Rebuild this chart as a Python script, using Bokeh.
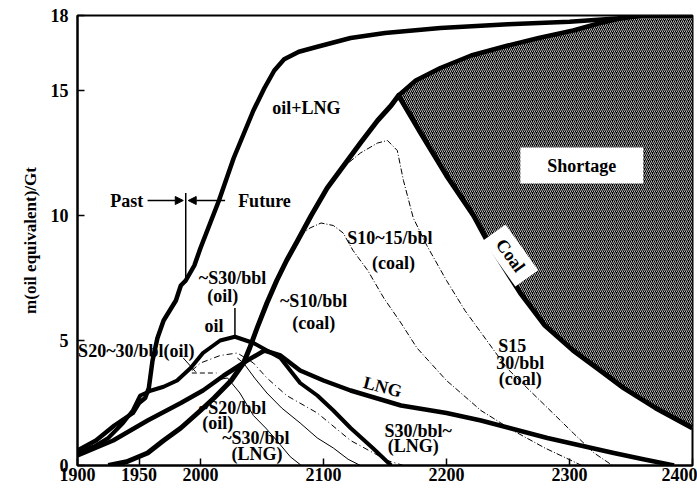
from bokeh.plotting import figure
from bokeh.models import Range1d, Label, Arrow, NormalHead, FixedTicker
from bokeh.embed import file_html
from bokeh.resources import INLINE

FONT = "Liberation Serif"

# ---- ticks ----
x_ticks = [1900, 1950, 2000, 2100, 2200, 2300, 2400]
y_ticks = [0, 5, 10, 15, 18]

# ---- thick curves ----
total_year = [1900, 1915, 1930, 1945, 1950, 1955, 1958, 1961, 1965, 1970, 1975, 1980, 1984, 1988,
              1995, 2000, 2015, 2027, 2043, 2052, 2060, 2068, 2080, 2095, 2122, 2150, 2195, 2250,
              2300, 2344, 2360, 2400]
total_val = [0.6, 1.0, 1.6, 2.1, 2.5, 2.7, 3.1, 4.2, 5.1, 5.8, 6.2, 6.6, 7.2, 7.4,
             8.0, 8.7, 10.6, 12.3, 14.2, 15.1, 15.8, 16.25, 16.55, 16.75, 17.1, 17.3, 17.5, 17.65,
             17.75, 17.9, 18.0, 18.0]

oil_year = [1900, 1915, 1925, 1937, 1945, 1951, 1960, 1970, 1981, 1992, 2002, 2016, 2028,
            2043, 2065, 2081, 2095, 2108, 2122, 2140, 2155]
oil_val = [0.5, 0.8, 1.1, 1.7, 2.2, 2.8, 3.0, 3.15, 3.4, 3.9, 4.5, 5.0, 5.15,
           4.9, 4.3, 3.3, 2.8, 2.2, 1.5, 0.7, 0.0]

lng_year = [1900, 1929, 1957, 1984, 2002, 2019, 2038, 2052, 2065, 2081, 2100, 2122, 2163, 2200,
            2228, 2282, 2336, 2360, 2385]
lng_val = [0.4, 1.0, 1.8, 2.5, 3.0, 3.6, 4.2, 4.6, 4.4, 3.8, 3.4, 3.0, 2.4, 2.1,
           1.8, 1.1, 0.5, 0.25, 0.0]

coal_year = [1925, 1940, 1957, 1970, 1984, 2000, 2011, 2025, 2035, 2040, 2046, 2054, 2062, 2070,
             2079, 2090, 2103, 2115, 2130, 2144, 2155, 2161, 2179, 2200, 2222, 2233, 2260, 2280,
             2303, 2325, 2344, 2370, 2400]
coal_val = [0.0, 0.15, 0.5, 1.0, 1.5, 2.2, 2.7, 3.4, 4.1, 4.7, 5.5, 6.5, 7.4, 8.2,
            9.0, 10.0, 11.1, 11.9, 12.9, 13.8, 14.4, 14.8, 13.3, 11.6, 10.0, 9.0, 6.9, 5.6,
            4.6, 3.8, 3.1, 2.3, 1.5]

# upper edge of the shortage area
short_year = [2161, 2175, 2195, 2220, 2250, 2275, 2303, 2325, 2347, 2360, 2400]
short_val = [14.8, 15.4, 15.9, 16.4, 16.8, 17.1, 17.4, 17.7, 17.95, 18.0, 18.0]

# ---- thin curves ----
oil2030_year = [1993, 2000, 2016, 2030, 2043, 2054, 2070, 2095, 2122, 2152, 2165]
oil2030_val = [3.8, 4.1, 4.4, 4.5, 4.1, 3.5, 2.8, 2.1, 1.0, 0.2, 0.0]

thinA_year = [2008, 2016, 2022, 2032, 2043, 2053, 2062, 2073, 2082]
thinA_val = [3.2, 3.45, 3.5, 2.9, 2.0, 1.5, 1.0, 0.35, 0.0]

thinB_year = [2030, 2035, 2044, 2054, 2066, 2081, 2095, 2108, 2120, 2130]
thinB_val = [4.3, 4.1, 3.5, 2.9, 2.3, 1.7, 1.1, 0.7, 0.25, 0.0]

coal10_year = [2081, 2089, 2098, 2108, 2116, 2124, 2136, 2149, 2163, 2176, 2200, 2228, 2254,
               2280, 2310]
coal10_val = [9.2, 9.5, 9.7, 9.6, 9.3, 8.6, 7.8, 6.7, 5.7, 4.7, 3.4, 2.2, 1.4, 0.7, 0.0]

coal15_year = [2114, 2130, 2144, 2152, 2160, 2165, 2173, 2184, 2200, 2215, 2249, 2276, 2303,
               2320, 2335]
coal15_val = [11.85, 12.5, 12.9, 13.0, 12.6, 11.4, 9.9, 8.8, 7.4, 6.2, 3.9, 2.6, 1.3, 0.5, 0.0]

# ---- figure ----
p = figure(width=697, height=491, x_range=Range1d(1900, 2400), y_range=Range1d(0, 18),
           output_backend="svg", toolbar_location=None,
           min_border_left=77, min_border_right=5, min_border_top=15, min_border_bottom=26)
p.xgrid.visible = False
p.ygrid.visible = False
p.outline_line_color = "black"
p.outline_line_width = 2
p.background_fill_color = "white"

for ax in (p.xaxis[0], p.yaxis[0]):
    ax.axis_line_width = 2
    ax.axis_line_color = "black"
    ax.major_tick_in = 7
    ax.major_tick_out = 0
    ax.major_tick_line_width = 1.5
    ax.major_tick_line_color = "black"
    ax.minor_tick_line_color = None
    ax.major_label_text_font = FONT
    ax.major_label_text_font_style = "bold"
    ax.major_label_text_font_size = "18px"
    ax.major_label_text_color = "black"

p.xaxis.ticker = FixedTicker(ticks=x_ticks)
p.xaxis.major_label_standoff = 2
p.yaxis.ticker = FixedTicker(ticks=y_ticks)
p.yaxis.major_label_standoff = 9
p.yaxis.axis_label = "m(oil equivalent)/Gt"
p.yaxis.axis_label_text_font = FONT
p.yaxis.axis_label_text_font_style = "bold"
p.yaxis.axis_label_text_font_size = "17px"
p.yaxis.axis_label_text_color = "black"
p.yaxis.axis_label_standoff = 8

# shortage patch (hatched)
patch_x = short_year + [2400] + [y for y in reversed(coal_year) if y >= 2161]
patch_y = short_val + [coal_val[-1]] + [v for y, v in zip(reversed(coal_year), reversed(coal_val)) if y >= 2161]
p.patch(patch_x, patch_y, fill_color="black", line_color=None,
        hatch_pattern="/", hatch_color="white", hatch_scale=4, hatch_weight=0.7)

# thin curves
p.line(thinA_year, thinA_val, line_color="black", line_width=1)
p.line(thinB_year, thinB_val, line_color="black", line_width=1)
p.line(oil2030_year, oil2030_val, line_color="black", line_width=1, line_dash="6 3 1 3")
p.line(coal10_year, coal10_val, line_color="black", line_width=1, line_dash="6 2 1 2")
p.line(coal15_year, coal15_val, line_color="black", line_width=1, line_dash="6 2 1 2")
p.line([1993, 2013], [3.7, 3.7], line_color="black", line_width=1, line_dash="5 3")

# thick curves
p.line(short_year, short_val, line_color="black", line_width=4.5, line_join="round")
p.line(coal_year, coal_val, line_color="black", line_width=5, line_join="round")
p.line(lng_year, lng_val, line_color="black", line_width=4.5, line_join="round")
p.line(oil_year, oil_val, line_color="black", line_width=4, line_join="round")
p.line(total_year, total_val, line_color="black", line_width=4.5, line_join="round")

# markers: past/future divider and oil peak tick
p.segment(x0=[1988, 2028], y0=[7.3, 5.15], x1=[1988, 2028], y1=[10.9, 6.3],
          line_color="black", line_width=1.5)
p.segment(x0=[1986], y0=[4.3], x1=[1996], y1=[3.75], line_color="black", line_width=1)

p.add_layout(Arrow(end=NormalHead(size=8, fill_color="black", line_color="black"),
                   x_start=1957, y_start=10.6, x_end=1986, y_end=10.6,
                   line_color="black", line_width=1.5))
p.add_layout(Arrow(end=NormalHead(size=8, fill_color="black", line_color="black"),
                   x_start=2020, y_start=10.6, x_end=1990, y_end=10.6,
                   line_color="black", line_width=1.5))


def lab(text, x, y, size="18px", align="center", angle=0.0, bg=None, pad=0, style="bold"):
    kw = dict(x=x, y=y, text=text, text_font=FONT, text_font_style=style,
              text_font_size=size, text_align=align, text_baseline="middle",
              angle=angle, text_color="black")
    if bg is not None:
        kw.update(background_fill_color=bg, padding=pad)
    p.add_layout(Label(**kw))


lab("oil+LNG", 2086, 14.3)
lab("Past", 1940, 10.6)
lab("Future", 2052, 10.6)
lab("~S30/bbl", 2026, 7.5)
lab("(oil)", 2018, 6.8)
lab("oil", 2011, 5.6)
lab("S20~30/bbl(oil)", 1900.5, 4.6, align="left")
lab("~S10/bbl", 2092, 6.6)
lab("(coal)", 2092, 5.7)
lab("~S20/bbl", 2026, 2.3)
lab("(oil)", 2014, 1.7)
lab("~S30/bbl", 2045, 1.1)
lab("(LNG)", 2046, 0.45)
lab("S10~15/bbl", 2154, 9.1)
lab("(coal)", 2157, 8.1)
lab("LNG", 2148, 3.15, angle=-0.25)
lab("S30/bbl~", 2177, 1.4)
lab("(LNG)", 2173, 0.8)
lab("S15", 2242, 4.8, align="left")
lab("30/bbl", 2260, 4.1)
lab("(coal)", 2260, 3.45)
lab("Shortage", 2310, 12.0, bg="white", pad=(27, 8))
lab("Coal", 2252, 8.4, angle=-0.95, bg="white", pad=(10, 4))

open("out.html", "w").write(file_html(p, INLINE))
